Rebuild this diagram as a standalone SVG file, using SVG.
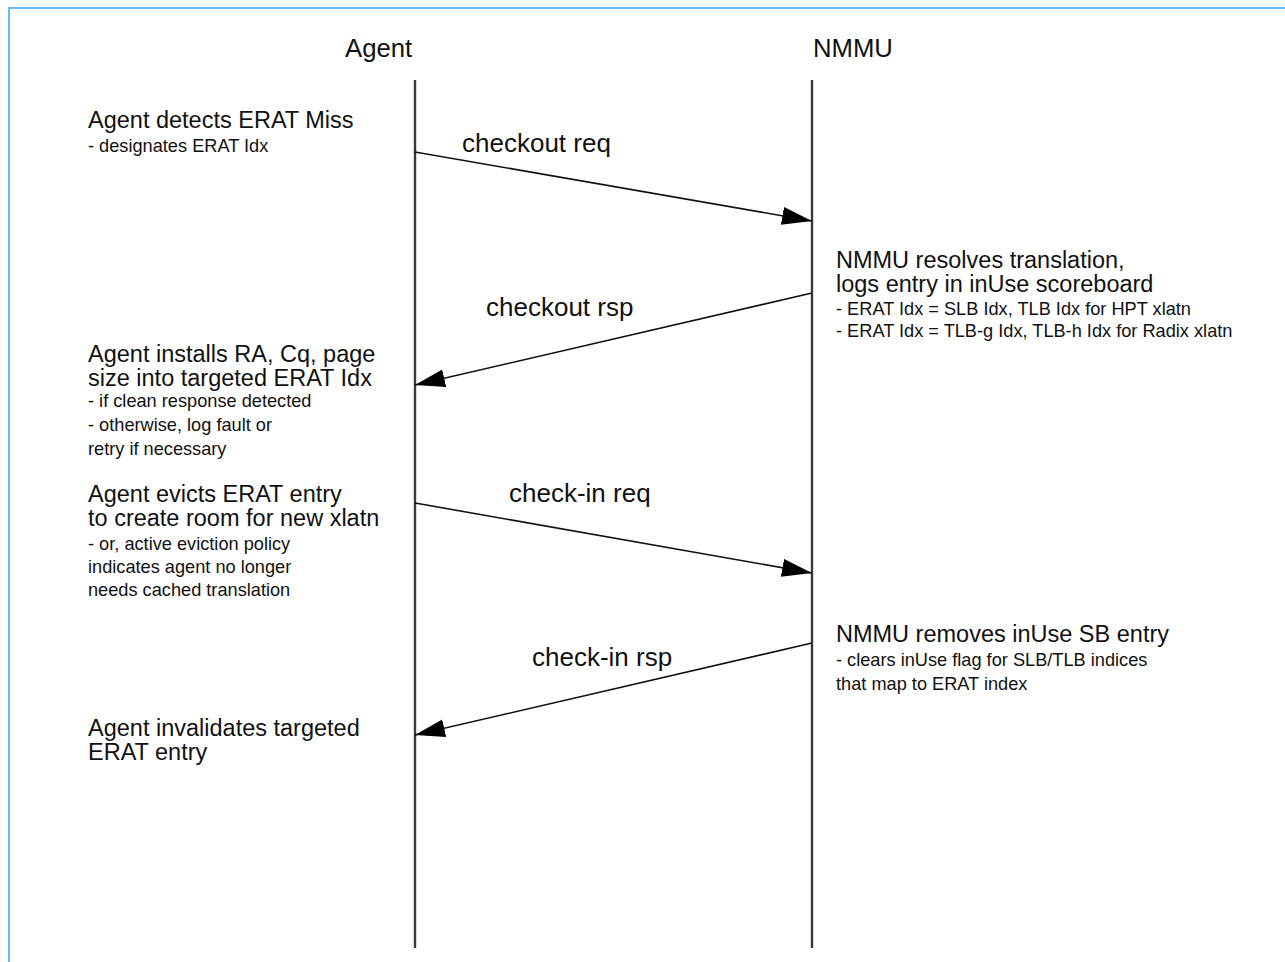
<svg xmlns="http://www.w3.org/2000/svg" width="1285" height="962" viewBox="0 0 1285 962">
<style>
  .hdr { font-family: "Liberation Sans", Arial, sans-serif; font-size: 25.7px; fill: #111; }
  .lbl { font-family: "Liberation Sans", Arial, sans-serif; font-size: 26px; fill: #111; }
  .main { font-family: "Liberation Sans", Arial, sans-serif; font-size: 23.5px; fill: #111; }
  .sub { font-family: "Liberation Sans", Arial, sans-serif; font-size: 18.2px; fill: #111; }
  .life { stroke: #3a3a3a; stroke-width: 2.4; fill: none; }
  .msg { stroke: #111; stroke-width: 1.6; fill: none; marker-end: url(#arrow); }
</style>
<defs>
  <marker id="arrow" markerUnits="userSpaceOnUse" markerWidth="32" markerHeight="20" refX="30" refY="9" orient="auto">
    <path d="M0,0 L30,9 L0,18 Z" fill="#000"/>
  </marker>
</defs>
<rect x="0" y="0" width="1285" height="962" fill="#fff"/>
<g id="frame">
  <line x1="8" y1="8" x2="1285" y2="8" stroke="#64bbf5" stroke-width="2"/>
  <line x1="9" y1="8" x2="9" y2="962" stroke="#64bbf5" stroke-width="2"/>
</g>
<g id="agent">
  <text class="hdr" x="345" y="57">Agent</text>
</g>
<g id="nmmu">
  <text class="hdr" x="813" y="57">NMMU</text>
</g>
<g id="connectors">
  <line class="life" x1="415" y1="80" x2="415" y2="948"/>
  <line class="life" x1="812" y1="80" x2="812" y2="948"/>
  <line class="msg" x1="415" y1="152" x2="812" y2="221"/>
  <line class="msg" x1="812" y1="293" x2="415" y2="385"/>
  <line class="msg" x1="415" y1="503" x2="812" y2="573"/>
  <line class="msg" x1="812" y1="643" x2="415" y2="735"/>
</g>
<g id="msg-labels">
  <text class="lbl" x="462" y="152">checkout req</text>
  <text class="lbl" x="486" y="316">checkout rsp</text>
  <text class="lbl" x="509" y="502">check-in req</text>
  <text class="lbl" x="532" y="666">check-in rsp</text>
</g>
<g id="note-detect">
  <text class="main" x="88" y="128">Agent detects ERAT Miss</text>
  <text class="sub" x="88" y="152">- designates ERAT Idx</text>
</g>
<g id="note-resolve">
  <text class="main" x="836" y="268">NMMU resolves translation,</text>
  <text class="main" x="836" y="292">logs entry in inUse scoreboard</text>
  <text class="sub" x="836" y="315">- ERAT Idx = SLB Idx, TLB Idx for HPT xlatn</text>
  <text class="sub" x="836" y="337">- ERAT Idx = TLB-g Idx, TLB-h Idx for Radix xlatn</text>
</g>
<g id="note-install">
  <text class="main" x="88" y="362">Agent installs RA, Cq, page</text>
  <text class="main" x="88" y="386">size into targeted ERAT Idx</text>
  <text class="sub" x="88" y="407">- if clean response detected</text>
  <text class="sub" x="88" y="431">- otherwise, log fault or</text>
  <text class="sub" x="88" y="455">retry if necessary</text>
</g>
<g id="note-evict">
  <text class="main" x="88" y="502">Agent evicts ERAT entry</text>
  <text class="main" x="88" y="526">to create room for new xlatn</text>
  <text class="sub" x="88" y="550">- or, active eviction policy</text>
  <text class="sub" x="88" y="573">indicates agent no longer</text>
  <text class="sub" x="88" y="596">needs cached translation</text>
</g>
<g id="note-remove">
  <text class="main" x="836" y="642">NMMU removes inUse SB entry</text>
  <text class="sub" x="836" y="666">- clears inUse flag for SLB/TLB indices</text>
  <text class="sub" x="836" y="690">that map to ERAT index</text>
</g>
<g id="note-invalidate">
  <text class="main" x="88" y="736">Agent invalidates targeted</text>
  <text class="main" x="88" y="760">ERAT entry</text>
</g>
</svg>
